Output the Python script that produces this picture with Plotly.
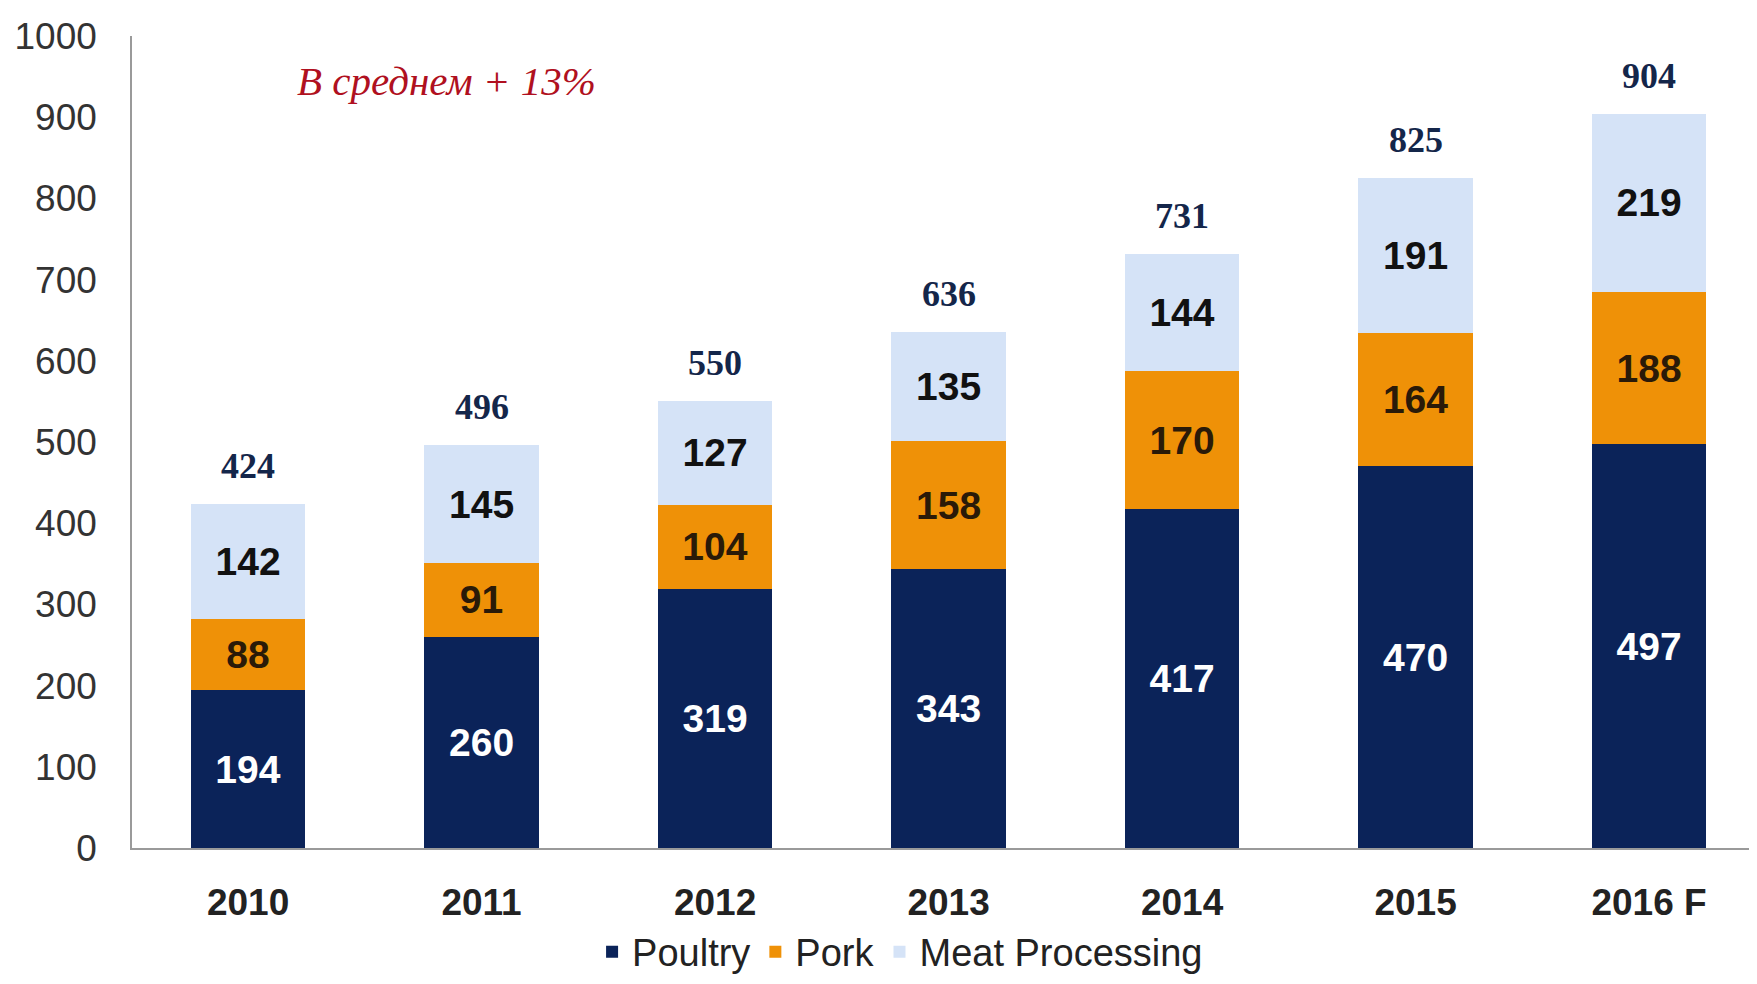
import plotly.graph_objects as go

# data
years = ["2010", "2011", "2012", "2013", "2014", "2015", "2016 F"]
poultry = [194, 260, 319, 343, 417, 470, 497]
pork = [88, 91, 104, 158, 170, 164, 188]
meat_processing = [142, 145, 127, 135, 144, 191, 219]
totals = [424, 496, 550, 636, 731, 825, 904]
y_ticks = [0, 100, 200, 300, 400, 500, 600, 700, 800, 900, 1000]

COLORS = {
    "poultry": "#0b2359",
    "pork": "#ef9107",
    "meat": "#d5e3f7",
    "total": "#14264a",
    "note": "#b01020",
    "axis": "#9a9a9a",
}
SANS = "Liberation Sans Narrow, Arial Narrow, Liberation Sans, Arial"
SERIF = "Liberation Serif, Times New Roman, serif"

fig = go.Figure()
series = [
    ("Poultry", poultry, COLORS["poultry"], "white"),
    ("Pork", pork, COLORS["pork"], "#2a1a08"),
    ("Meat Processing", meat_processing, COLORS["meat"], "#111111"),
]
for name, vals, color, tcolor in series:
    fig.add_trace(go.Bar(
        x=years, y=vals, name=name,
        marker=dict(color=color, line=dict(width=0)),
        text=vals, textposition="inside", insidetextanchor="middle",
        constraintext="none",
        textfont=dict(family=SANS, size=39, color=tcolor, weight="bold"),
        width=0.49,
    ))

# totals above bars (category index as x)
for i, tot in enumerate(totals):
    fig.add_annotation(
        x=i, y=tot, text=f"<b>{tot}</b>", showarrow=False,
        yanchor="bottom", yshift=16,
        font=dict(family=SERIF, size=36, color=COLORS["total"]),
    )

fig.add_annotation(
    x=0.85, y=945, xref="x", yref="y", text="<i>В среднем + 13%</i>",
    showarrow=False, font=dict(family=SERIF, size=41, color=COLORS["note"]),
)

# page body has an 8px margin, so the figure is a bit smaller than the window
fig.update_layout(
    barmode="stack",
    width=1741, height=968,
    margin=dict(l=124, r=0, t=28, b=128, autoexpand=False),
    paper_bgcolor="white", plot_bgcolor="white",
    showlegend=True,
    legend=dict(
        orientation="h", x=0.475, xanchor="center", y=-0.128, yanchor="middle",
        font=dict(family=SANS, size=38, color="#222222"),
        traceorder="normal", itemsizing="constant",
    ),
    xaxis=dict(
        type="category",
        range=[-0.497, 6.428], showline=True, linecolor=COLORS["axis"], linewidth=1.5,
        ticks="outside", ticklen=21, tickcolor="rgba(0,0,0,0)",
        tickfont=dict(family=SANS, size=37, color="#222222", weight="bold"),
        showgrid=False, zeroline=False,
    ),
    yaxis=dict(
        range=[0, 1000], tickvals=y_ticks, showline=True, linecolor=COLORS["axis"],
        linewidth=1.5, ticks="outside", ticklen=26, tickcolor="rgba(0,0,0,0)",
        tickfont=dict(family=SANS, size=37, color="#333333"),
        showgrid=False, zeroline=False,
    ),
)

fig.write_html("out.html")
